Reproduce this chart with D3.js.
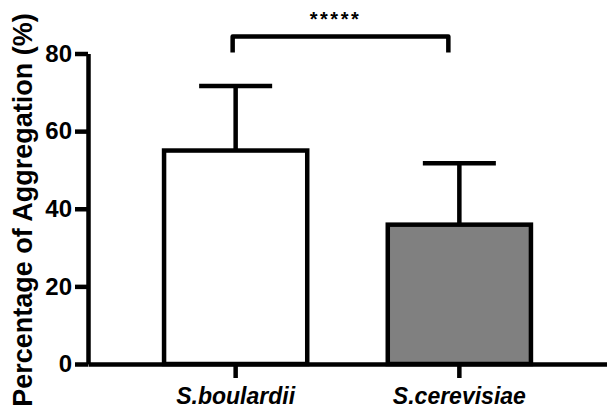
<!DOCTYPE html>
<html>
<head>
<meta charset="utf-8">
<script src="https://cdn.jsdelivr.net/npm/d3@7"></script>
<style>
  body { margin: 0; background: #fff; }
  svg { display: block; font-family: "Liberation Sans", Arial, sans-serif; }
</style>
</head>
<body>
<svg width="607" height="409"></svg>
<script>
(() => {
    const groups = ["S.boulardii", "S.cerevisiae"];
    const means = [55.0, 35.9];
    const errors = [16.6, 15.8];
    const fills = ["#ffffff", "#808080"];
    const yTicks = [0, 20, 40, 60, 80];
    const sigLabel = "*****";

    let svg = d3.select("svg");

    let x = d3.scaleBand()
        .domain(groups)
        .range([88, 607])
        .paddingInner(0.36)
        .paddingOuter(0.34);

    let y = d3.scaleLinear()
        .domain([0, 80])
        .range([364, 53.5]);

    const lw = 4.5;

    // bars
    svg.append("g")
        .selectAll("rect")
        .data(groups)
        .join("rect")
        .attr("x", d => x(d))
        .attr("y", (d, i) => y(means[i]))
        .attr("width", x.bandwidth())
        .attr("height", (d, i) => y(0) - y(means[i]))
        .attr("fill", (d, i) => fills[i])
        .attr("stroke", "#000")
        .attr("stroke-width", lw);

    // error bars (upper only)
    let eb = svg.append("g").attr("stroke", "#000").attr("stroke-width", lw);
    groups.forEach((g, i) => {
        const cx = x(g) + x.bandwidth() / 2;
        const capW = x.bandwidth() * 0.51;
        eb.append("line")
            .attr("x1", cx).attr("x2", cx)
            .attr("y1", y(means[i])).attr("y2", y(means[i] + errors[i]));
        eb.append("line")
            .attr("x1", cx - capW / 2).attr("x2", cx + capW / 2)
            .attr("y1", y(means[i] + errors[i])).attr("y2", y(means[i] + errors[i]));
    });

    // y axis
    let yAxis = svg.append("g")
        .attr("transform", "translate(88,0)")
        .call(d3.axisLeft(y).tickValues(yTicks).tickSize(13).tickSizeOuter(0).tickPadding(3));
    yAxis.select(".domain").attr("stroke-width", lw).attr("stroke", "#000");
    yAxis.selectAll(".tick line").attr("stroke-width", lw);
    yAxis.selectAll(".tick text")
        .attr("font-size", 24)
        .attr("font-weight", "bold")
        .attr("font-family", "Liberation Sans, Arial, sans-serif")
        .attr("fill", "#000");

    // x axis
    let xAxis = svg.append("g")
        .attr("transform", `translate(0,${y(0)})`)
        .call(d3.axisBottom(x).tickSize(14).tickSizeOuter(0).tickPadding(10));
    xAxis.select(".domain").attr("stroke-width", lw).attr("stroke", "#000");
    xAxis.selectAll(".tick line").attr("stroke-width", lw);
    xAxis.selectAll(".tick text")
        .attr("font-size", 23)
        .attr("font-weight", "bold")
        .attr("font-style", "italic")
        .attr("font-family", "Liberation Sans, Arial, sans-serif")
        .attr("fill", "#000");

    // y axis title
    svg.append("text")
        .attr("transform", `translate(32,${210}) rotate(-90)`)
        .attr("text-anchor", "middle")
        .attr("font-size", 27)
        .attr("font-weight", "bold")
        .text("Percentage of Aggregation (%)");

    // significance bracket
    const bx1 = x(groups[0]) + x.bandwidth() / 2 - 3;
    const bx2 = x(groups[1]) + x.bandwidth() / 2 - 11;
    const by = 36.5;
    svg.append("path")
        .attr("d", `M${bx1},${by + 16}V${by}H${bx2}V${by + 16}`)
        .attr("fill", "none")
        .attr("stroke", "#000")
        .attr("stroke-width", lw)
        .attr("stroke-linejoin", "round");

    svg.append("text")
        .attr("x", (bx1 + bx2) / 2 - 5)
        .attr("y", 26)
        .attr("text-anchor", "middle")
        .attr("font-size", 20)
        .attr("font-weight", "bold")
        .attr("letter-spacing", 2.5)
        .text(sigLabel);
})();
</script>
</body>
</html>
